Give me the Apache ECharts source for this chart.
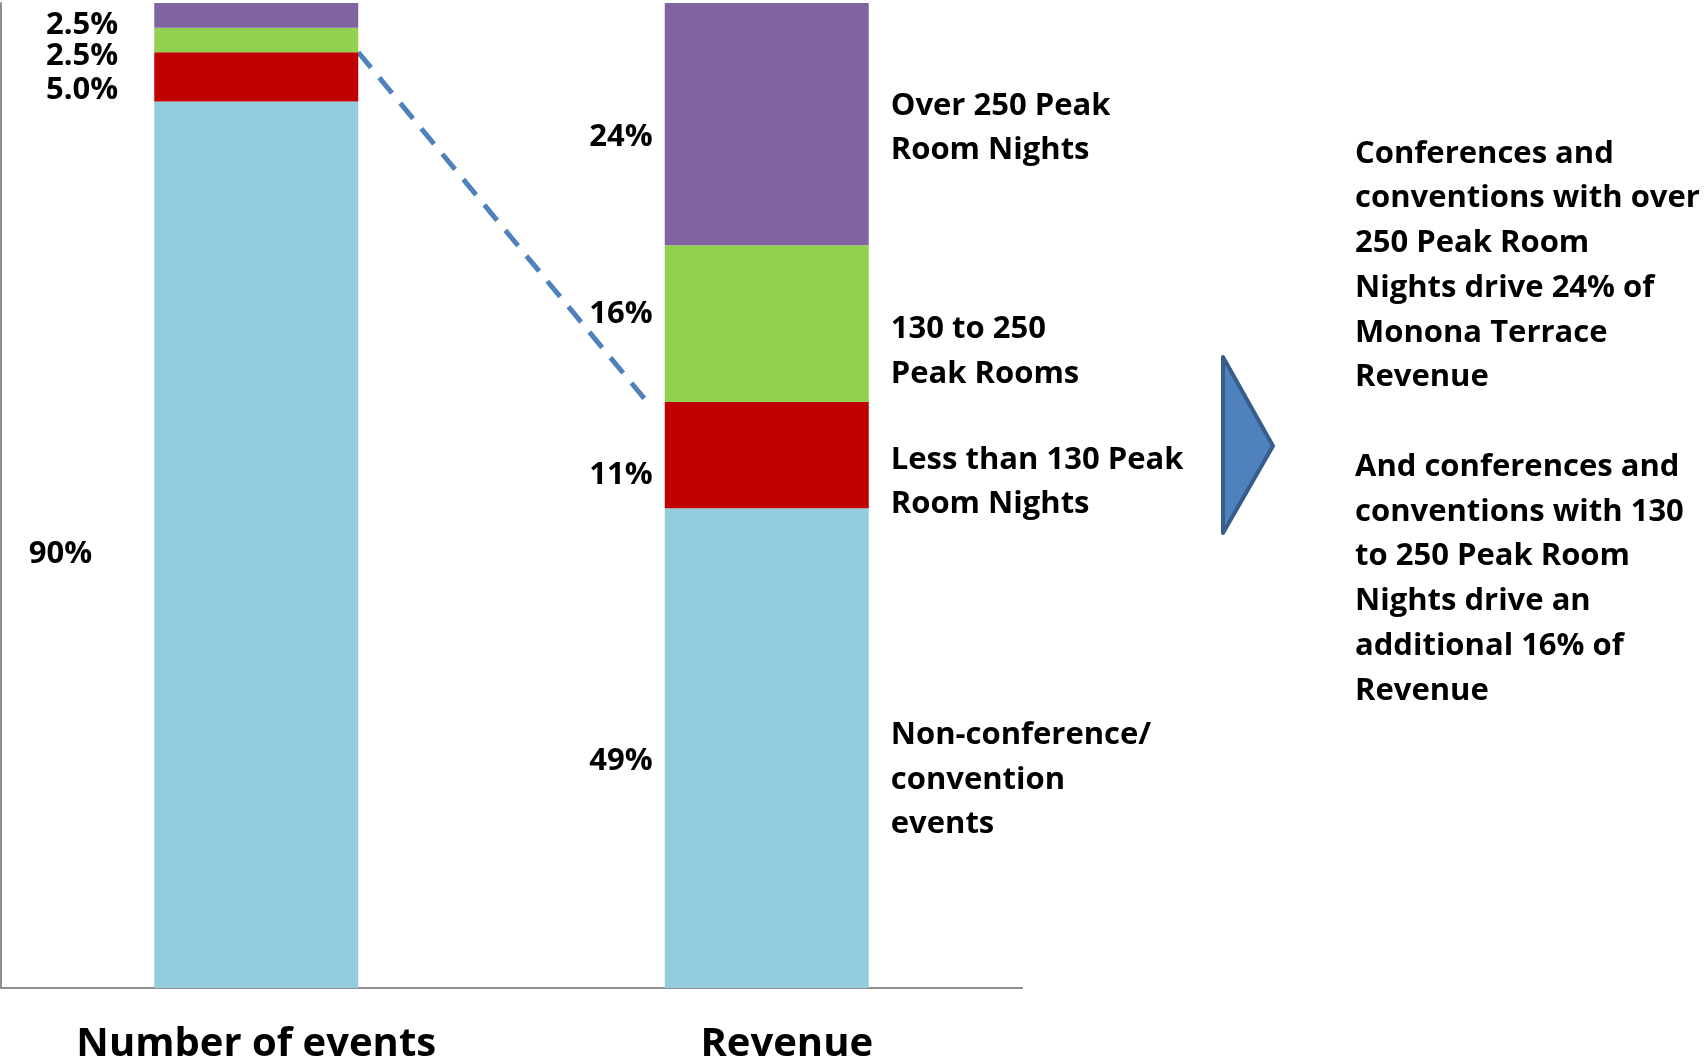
<!DOCTYPE html>
<html><head><meta charset="utf-8">
<script src="https://cdn.jsdelivr.net/npm/echarts@6/dist/echarts.min.js"></script>
<style>html,body{margin:0;padding:0;background:#fff}#c{width:1704px;height:1059px}</style>
</head><body><div id="c"></div>
<script>
// ---- data ----
const categories = ['Number of events', 'Revenue'];
const nonConference = [90, 48.7];
const under130 = [5, 10.8];
const from130to250 = [2.5, 15.9];
const over250 = [2.5, 24.6];
const nonConferenceLabels = ['90%', '49%'];
const under130Labels = ['5.0%', '11%'];
const from130to250Labels = ['2.5%', '16%'];
const over250Labels = ['2.5%', '24%'];
const segmentDescriptions = ['Non-conference/\nconvention\nevents', 'Less than 130 Peak\nRoom Nights', '130 to 250\nPeak Rooms', 'Over 250 Peak\nRoom Nights'];
const calloutText = 'Conferences and\nconventions with over\n250 Peak Room\nNights drive 24% of\nMonona Terrace\nRevenue\n\nAnd conferences and\nconventions with 130\nto 250 Peak Room\nNights drive an\nadditional 16% of\nRevenue';

// ---- styles ----
const FONT = '"Open Sans"';
const FS = 31;
const colors = ['#93CDDD', '#C00000', '#92D050', '#8064A2'];
const labelOffsets = [
  [[-26, 9.5], [24, 13]],
  [[0, 13], [24, 20]],
  [[0, 16], [24, -9]],
  [[0, 10], [24, 13]]
];
const descOffsets = [32, 27, 28, 4];
const BAR_W = 204;

const seriesValues = [nonConference, under130, from130to250, over250];
const seriesLabels = [nonConferenceLabels, under130Labels, from130to250Labels, over250Labels];

const chart = echarts.init(document.getElementById('c'), null, {renderer: 'canvas'});

const series = seriesValues.map((vals, s) => ({
  type: 'bar',
  stack: 'total',
  barWidth: BAR_W,
  silent: true,
  itemStyle: {color: colors[s]},
  label: {
    show: true,
    position: 'left',
    distance: 36,
    color: '#000',
    fontFamily: FONT,
    fontWeight: 'bold',
    fontSize: FS,
    formatter: p => seriesLabels[s][p.dataIndex]
  },
  data: vals.map((v, i) => ({value: v, label: {offset: labelOffsets[s][i]}}))
}));

chart.setOption({
  animation: false,
  backgroundColor: '#fff',
  textStyle: {fontFamily: FONT},
  grid: {left: 1, right: 682, top: 3, bottom: 71, containLabel: false, outerBoundsMode: 'none'},
  xAxis: {
    type: 'category',
    data: categories,
    boundaryGap: true,
    axisLine: {show: true, lineStyle: {color: '#8E8E8E', width: 2}},
    axisTick: {show: false},
    axisLabel: {
      interval: 0,
      hideOverlap: false,
      margin: 37,
      color: '#000',
      fontFamily: FONT,
      fontWeight: 'bold',
      fontSize: 40,
      formatter: (v, i) => i === 1 ? '{r|' + v + '}' : '{n|' + v + '}',
      rich: {
        n: {fontFamily: FONT, fontWeight: 'bold', fontSize: 40, color: '#000'},
        r: {fontFamily: FONT, fontWeight: 'bold', fontSize: 40, color: '#000', padding: [0, 0, 0, 40]}
      }
    }
  },
  yAxis: {
    type: 'value',
    min: 0,
    max: 100,
    axisLine: {show: true, lineStyle: {color: '#8E8E8E', width: 2}},
    axisTick: {show: false},
    axisLabel: {show: false},
    splitLine: {show: false}
  },
  series: series
});

// ---- annotations anchored to the chart's scales ----
const px = (cat, val) => chart.convertToPixel({gridIndex: 0}, [cat, val]);
const graphics = [];

const evTop = nonConference[0] + under130[0];
const revTop = nonConference[1] + under130[1];
const p1 = px(categories[0], evTop);
const p2 = px(categories[1], revTop);
graphics.push({
  type: 'line', silent: true,
  shape: {x1: p1[0] + BAR_W / 2, y1: p1[1], x2: p2[0] - BAR_W / 2 - 16, y2: p2[1] + 2},
  style: {stroke: '#4F81BD', lineWidth: 5, lineDash: [20, 13]}
});

let cum = 0;
seriesValues.forEach((vals, s) => {
  const mid = cum + vals[1] / 2;
  cum += vals[1];
  const p = px(categories[1], mid);
  graphics.push({
    type: 'text', silent: true,
    x: p[0] + BAR_W / 2 + 22,
    y: p[1] + descOffsets[s],
    style: {
      text: segmentDescriptions[s],
      fill: '#000', font: 'bold ' + FS + 'px ' + FONT,
      lineHeight: 44.5,
      textAlign: 'left', textVerticalAlign: 'middle'
    }
  });
});

graphics.push({
  type: 'polygon', silent: true,
  shape: {points: [[1223, 357], [1273, 446], [1223, 533]]},
  style: {fill: '#4F81BD', stroke: '#385D8A', lineWidth: 4, lineJoin: 'round'}
});

graphics.push({
  type: 'text', silent: true,
  x: 1355, y: 131.5,
  style: {
    text: calloutText,
    fill: '#000', font: 'bold ' + FS + 'px ' + FONT,
    lineHeight: 44.75,
    textAlign: 'left', textVerticalAlign: 'top'
  }
});

chart.setOption({graphic: graphics});
</script>
</body></html>
